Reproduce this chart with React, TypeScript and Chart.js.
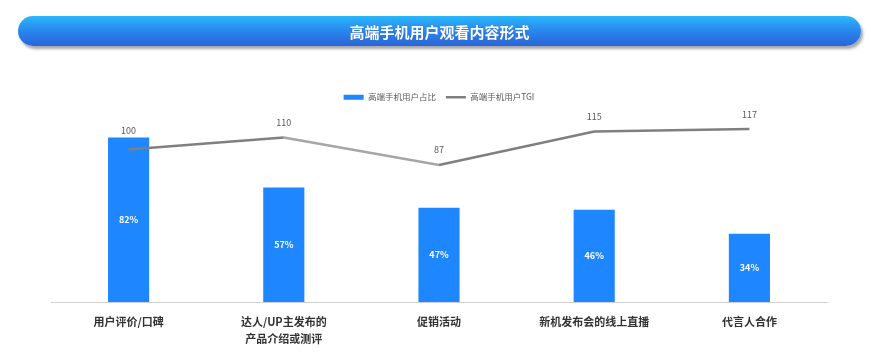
import React, { useEffect, useRef } from 'react';
import { Chart, registerables } from 'chart.js';

Chart.register(...registerables);

const FONT = '"Noto Sans CJK SC", "Noto Sans", sans-serif';
const TITLE = '高端手机用户观看内容形式';
const categories: string[][] = [
  ['用户评价/口碑'],
  ['达人/UP主发布的', '产品介绍或测评'],
  ['促销活动'],
  ['新机发布会的线上直播'],
  ['代言人合作'],
];
const shareLabel = '高端手机用户占比';
const tgiLabel = '高端手机用户TGI';
const shareValues = [82, 57, 47, 46, 34];
const tgiValues = [100, 110, 87, 115, 117];

const dataLabels = {
  id: 'dataLabels',
  afterDatasetsDraw(chart: any) {
    const ctx = chart.ctx;
    ctx.save();
    ctx.textAlign = 'center';
    ctx.textBaseline = 'middle';
    const barMeta = chart.getDatasetMeta(0);
    ctx.font = `bold 9px ${FONT}`;
    ctx.fillStyle = '#ffffff';
    barMeta.data.forEach((bar: any, i: number) => {
      const p = bar.getProps(['x', 'y', 'base'], true);
      ctx.fillText(shareValues[i] + '%', p.x, (p.y + p.base) / 2);
    });
    const lineMeta = chart.getDatasetMeta(1);
    ctx.font = `9px ${FONT}`;
    ctx.fillStyle = '#595959';
    lineMeta.data.forEach((pt: any, i: number) => {
      ctx.fillText(String(tgiValues[i]), pt.x, pt.y - (i === 0 ? 19 : 15));
    });
    ctx.restore();
  },
};

export default function App() {
  const ref = useRef<HTMLCanvasElement>(null);
  useEffect(() => {
    document.body.style.margin = '0';
    const chart = new Chart(ref.current!, {
      type: 'bar',
      data: {
        labels: categories,
        datasets: [
          {
            type: 'bar',
            label: shareLabel,
            data: shareValues,
            backgroundColor: '#1E86FF',
            barPercentage: 0.265,
            categoryPercentage: 1,
            yAxisID: 'y',
            order: 1,
          },
          {
            type: 'line',
            label: tgiLabel,
            data: tgiValues,
            borderColor: '#7f7f7f',
            backgroundColor: '#7f7f7f',
            borderWidth: 2.5,
            pointRadius: 0,
            tension: 0,
            yAxisID: 'y1',
            order: 0,
            segment: {
              borderColor: (c: any) => (c.p0DataIndex === 1 ? '#a6a6a6' : '#7f7f7f'),
            },
          } as any,
        ],
      },
      options: {
        animation: false,
        responsive: false,
        layout: { padding: { top: 83, left: 51, right: 44, bottom: -4 } },
        plugins: {
          tooltip: { enabled: false },
          legend: {
            position: 'top',
            labels: {
              usePointStyle: true,
              pointStyleWidth: 20,
              boxHeight: 5,
              padding: 10,
              color: '#595959',
              font: { size: 8.5, family: FONT, lineHeight: 1.3 },
              sort: (a: any, b: any) => a.datasetIndex - b.datasetIndex,
              generateLabels: (chart: any) => {
                const items = Chart.defaults.plugins.legend.labels.generateLabels(chart);
                items.forEach((it: any) => {
                  if (it.datasetIndex === 0) {
                    it.pointStyle = 'rect';
                    it.lineWidth = 0;
                    it.fillStyle = '#1E86FF';
                  } else {
                    it.pointStyle = 'line';
                    it.lineWidth = 2.5;
                    it.strokeStyle = '#7f7f7f';
                  }
                });
                return items;
              },
            },
          },
        },
        scales: {
          x: {
            grid: { display: false, drawTicks: false },
            border: { display: true, color: '#d0d0d0', width: 1 },
            ticks: {
              color: '#333333',
              padding: 12,
              font: { size: 11, family: FONT, lineHeight: 1.5, weight: 'bold' },
              maxRotation: 0,
              autoSkip: false,
            },
          },
          y: { display: false, min: 0, max: 94.9 },
          y1: { display: false, min: -27.5, max: 131.7 },
        },
      },
      plugins: [dataLabels],
    });
    return () => chart.destroy();
  }, []);

  return (
    <div style={{ position: 'relative', width: 871, height: 355, background: '#fff', overflow: 'hidden' }}>
      <canvas ref={ref} width={871} height={355} style={{ position: 'absolute', left: 0, top: 0 }} />
      <div
        style={{
          position: 'absolute',
          left: 18,
          top: 16,
          width: 843,
          height: 30,
          borderRadius: 15,
          background: 'linear-gradient(180deg, #2ab8fb 0%, #2a86ee 50%, #2a64d8 100%)',
          boxShadow: '2px 3px 3px rgba(0,0,0,0.35)',
          display: 'flex',
          alignItems: 'center',
          justifyContent: 'center',
          color: '#fff',
          fontFamily: FONT,
          fontWeight: 'bold',
          fontSize: 15,
          textShadow: '0 0 1px rgba(0,0,0,0.3)',
        }}
      >
        {TITLE}
      </div>
    </div>
  );
}
